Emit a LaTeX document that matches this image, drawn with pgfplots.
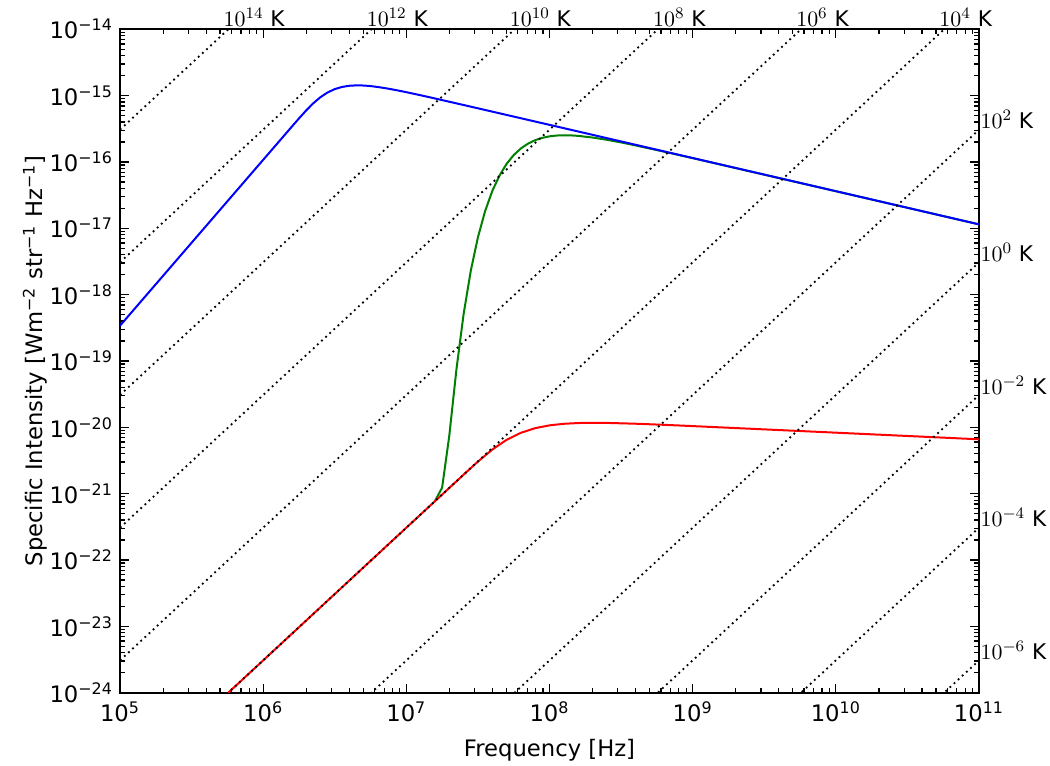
\documentclass[border=0pt]{standalone}
\usepackage{fontspec}
\setmainfont{DejaVu Sans}
\usepackage{pgfplots}
\pgfplotsset{compat=1.18}
\tikzset{
  tlab/.style={anchor=base west, inner sep=0pt, font=\fontsize{10.8}{13}\selectfont},
  ttop/.style={tlab, xshift=-2.5pt, yshift=1.3pt},
  tright/.style={tlab, xshift=0.6pt, yshift=0.4pt},
  dotline/.style={black, line width=0.9pt, dash pattern=on 0.9pt off 1.9pt},
}
\begin{document}
\begin{tikzpicture}
\begin{axis}[
  scale only axis,
  width=429.5pt, height=331.7pt,
  xmode=log, ymode=log,
  xmin=1e5, xmax=1e11, ymin=1e-24, ymax=1e-14,
  clip mode=individual,
  axis line style={line width=0.9pt},
  tick align=inside, tick pos=both,
  major tick length=4.5pt, minor tick length=2.5pt,
  every tick/.style={black, line width=0.6pt},
  xtick={1e5,1e6,1e7,1e8,1e9,1e10,1e11},
  xticklabels={10\textsuperscript{5},10\textsuperscript{6},10\textsuperscript{7},10\textsuperscript{8},10\textsuperscript{9},10\textsuperscript{10},10\textsuperscript{11}},
  minor xtick={2e5,3e5,4e5,5e5,6e5,7e5,8e5,9e5,2e6,3e6,4e6,5e6,6e6,7e6,8e6,9e6,2e7,3e7,4e7,5e7,6e7,7e7,8e7,9e7,2e8,3e8,4e8,5e8,6e8,7e8,8e8,9e8,2e9,3e9,4e9,5e9,6e9,7e9,8e9,9e9,2e10,3e10,4e10,5e10,6e10,7e10,8e10,9e10},
  ytick={1e-24,1e-23,1e-22,1e-21,1e-20,1e-19,1e-18,1e-17,1e-16,1e-15,1e-14},
  yticklabels={10\textsuperscript{−24},10\textsuperscript{−23},10\textsuperscript{−22},10\textsuperscript{−21},10\textsuperscript{−20},10\textsuperscript{−19},10\textsuperscript{−18},10\textsuperscript{−17},10\textsuperscript{−16},10\textsuperscript{−15},10\textsuperscript{−14}},
  minor ytick={2e-24,3e-24,4e-24,5e-24,6e-24,7e-24,8e-24,9e-24,2e-23,3e-23,4e-23,5e-23,6e-23,7e-23,8e-23,9e-23,2e-22,3e-22,4e-22,5e-22,6e-22,7e-22,8e-22,9e-22,2e-21,3e-21,4e-21,5e-21,6e-21,7e-21,8e-21,9e-21,2e-20,3e-20,4e-20,5e-20,6e-20,7e-20,8e-20,9e-20,2e-19,3e-19,4e-19,5e-19,6e-19,7e-19,8e-19,9e-19,2e-18,3e-18,4e-18,5e-18,6e-18,7e-18,8e-18,9e-18,2e-17,3e-17,4e-17,5e-17,6e-17,7e-17,8e-17,9e-17,2e-16,3e-16,4e-16,5e-16,6e-16,7e-16,8e-16,9e-16,2e-15,3e-15,4e-15,5e-15,6e-15,7e-15,8e-15,9e-15},
  ticklabel style={font=\fontsize{11.35}{13.6}\selectfont},
  xticklabel style={yshift=-1.2pt},
  label style={font=\fontsize{11.35}{13.6}\selectfont},
  xlabel={Frequency [Hz]},
  ylabel={Specific Intensity [Wm\textsuperscript{−2} str\textsuperscript{−1} Hz\textsuperscript{−1}]},
  xlabel style={at={(axis description cs:0.5,-0.0861)}, anchor=center},
  ylabel style={at={(axis description cs:-0.099,0.5)}, anchor=center},
]
\coordinate (bl) at (rel axis cs:0,0);
\coordinate (tr) at (rel axis cs:1,1);

% green: synchrotron behind free-free absorbing screen
\addplot[color={rgb,1:red,0;green,0.5;blue,0}, line width=1pt] coordinates {
(1.585e7,7.762e-22) (1.778e7,1.233e-21) (1.995e7,7.447e-21) (2.239e7,7.534e-20)
(2.512e7,5.105e-19) (2.818e7,2.286e-18) (3.162e7,7.328e-18) (3.548e7,1.811e-17)
(3.981e7,3.639e-17) (4.467e7,6.209e-17) (5.012e7,9.354e-17) (5.623e7,1.271e-16)
(6.310e7,1.600e-16) (7.079e7,1.892e-16) (7.943e7,2.133e-16) (8.913e7,2.312e-16)
(1e8,2.438e-16) (1.122e8,2.506e-16) (1.259e8,2.529e-16) (1.413e8,2.518e-16)
(1.585e8,2.477e-16) (1.995e8,2.339e-16) (2.512e8,2.163e-16) (3.162e8,1.972e-16)
(3.981e8,1.780e-16) (6.310e8,1.433e-16) (1e9,1.144e-16) (1e10,3.631e-17) (1e11,1.148e-17)
};

% blue: self-absorbed synchrotron
\addplot[color={rgb,1:red,0;green,0;blue,1}, line width=1pt] coordinates {
(1e5,3.408e-19) (3.162e5,6.060e-18) (1e6,1.078e-16) (1.259e6,1.916e-16)
(1.585e6,3.408e-16) (1.778e6,4.533e-16) (1.995e6,5.973e-16) (2.239e6,7.679e-16)
(2.512e6,9.487e-16) (2.818e6,1.117e-15) (3.162e6,1.255e-15) (3.548e6,1.352e-15)
(3.981e6,1.409e-15) (4.467e6,1.429e-15) (5.012e6,1.422e-15) (5.623e6,1.394e-15)
(6.310e6,1.351e-15) (7.079e6,1.300e-15) (7.943e6,1.245e-15) (8.913e6,1.186e-15)
(1e7,1.128e-15) (1.259e7,1.014e-15) (1.585e7,9.070e-16) (1.995e7,8.100e-16)
(2.512e7,7.228e-16) (3.162e7,6.446e-16) (1e8,3.631e-16) (1e9,1.148e-16)
(1e10,3.631e-17) (1e11,1.148e-17)
};

% red: free-free emission at 1e4 K
\addplot[color={rgb,1:red,1;green,0;blue,0}, line width=1pt] coordinates {
(5.012e5,7.719e-25) (1e6,3.073e-24) (3.162e6,3.073e-23) (1e7,3.073e-22)
(1.585e7,7.719e-22) (2.512e7,1.938e-21) (3.162e7,3.049e-21) (3.981e7,4.621e-21)
(5.012e7,6.482e-21) (6.310e7,8.276e-21) (7.943e7,9.725e-21) (1e8,1.072e-20)
(1.259e8,1.132e-20) (1.585e8,1.162e-20) (1.995e8,1.172e-20) (2.512e8,1.167e-20)
(3.981e8,1.135e-20) (6.310e8,1.092e-20) (1e9,1.045e-20) (1e10,8.318e-21) (1e11,6.607e-21)
};

% Rayleigh-Jeans lines, T = 10^k K, k = -6, -4, ..., 14
\addplot[dotline] coordinates {(1e5,3.073e-36) (1e11,3.073e-24)};
\addplot[dotline] coordinates {(1e5,3.073e-34) (1e11,3.073e-22)};
\addplot[dotline] coordinates {(1e5,3.073e-32) (1e11,3.073e-20)};
\addplot[dotline] coordinates {(1e5,3.073e-30) (1e11,3.073e-18)};
\addplot[dotline] coordinates {(1e5,3.073e-28) (1e11,3.073e-16)};
\addplot[dotline] coordinates {(1e5,3.073e-26) (1e11,3.073e-14)};
\addplot[dotline] coordinates {(1e5,3.073e-24) (1e11,3.073e-12)};
\addplot[dotline] coordinates {(1e5,3.073e-22) (1e11,3.073e-10)};
\addplot[dotline] coordinates {(1e5,3.073e-20) (1e11,3.073e-8)};
\addplot[dotline] coordinates {(1e5,3.073e-18) (1e11,3.073e-6)};
\addplot[dotline] coordinates {(1e5,3.073e-16) (1e11,3.073e-4)};

% temperature labels
\node[ttop] at (axis cs:5.702e5,1e-14) {$10^{14}$ K};
\node[ttop] at (axis cs:5.702e6,1e-14) {$10^{12}$ K};
\node[ttop] at (axis cs:5.702e7,1e-14) {$10^{10}$ K};
\node[ttop] at (axis cs:5.702e8,1e-14) {$10^{8}$ K};
\node[ttop] at (axis cs:5.702e9,1e-14) {$10^{6}$ K};
\node[ttop] at (axis cs:5.702e10,1e-14) {$10^{4}$ K};
\node[tright] at (axis cs:1e11,3.073e-16) {$10^{2}$ K};
\node[tright] at (axis cs:1e11,3.073e-18) {$10^{0}$ K};
\node[tright] at (axis cs:1e11,3.073e-20) {$10^{-2}$ K};
\node[tright] at (axis cs:1e11,3.073e-22) {$10^{-4}$ K};
\node[tright] at (axis cs:1e11,3.073e-24) {$10^{-6}$ K};
\end{axis}
\pgfresetboundingbox
\path[use as bounding box] ([shift={(-60pt,-36.65pt)}]bl) rectangle ([shift={(35.5pt,14.65pt)}]tr);
\end{tikzpicture}
\end{document}
